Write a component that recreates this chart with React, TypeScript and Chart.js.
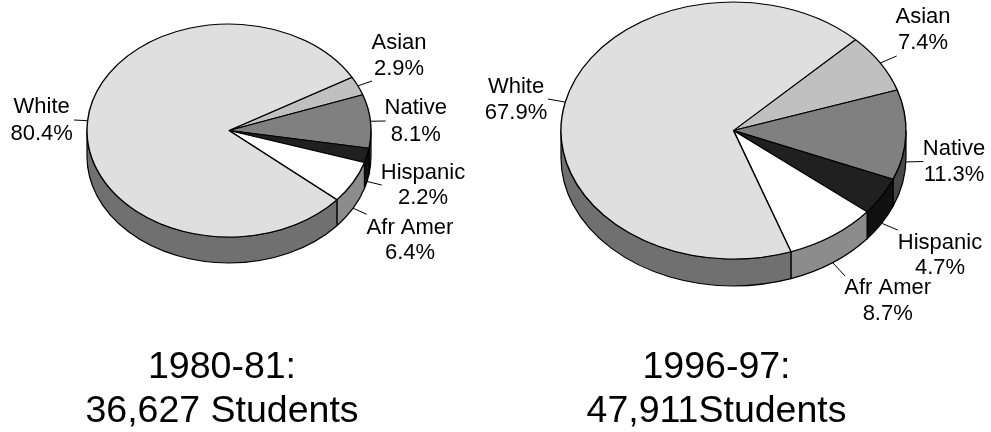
import React, { useEffect, useRef } from "react";
import { Chart, registerables } from "chart.js";

Chart.register(...registerables);

const categories = ["Asian", "Native", "Hispanic", "Afr Amer", "White"];
const values1980 = [2.9, 8.1, 2.2, 6.4, 80.4];
const values1996 = [7.4, 11.3, 4.7, 8.7, 67.9];
const title1980 = ["1980-81:", "36,627 Students"];
const title1996 = ["1996-97:", "47,911Students"];

const topColors = ["#c0c0c0", "#808080", "#202020", "#ffffff", "#dfdfdf"];
const wallColors = ["#8c8c8c", "#484848", "#101010", "#8c8c8c", "#707070"];
const FONT = '"Liberation Sans", Arial, sans-serif';
const LABEL_SIZE = 22;
const TITLE_SIZE = 37.5;

type Layout = {
  cx: number; cy: number; rx: number; ry: number; depth: number; rotation: number;
  labelPos: number[][]; // centre x, line 1 y, line 2 y
  leaderEnd: number[][];
  titlePos: number[];   // centre x, line 1 baseline, line 2 baseline
};

const layout1980: Layout = {
  cx: 229, cy: 130.5, rx: 142, ry: 106.5, depth: 26, rotation: 60,
  labelPos: [[399, 43, 69], [415.7, 108, 135], [423, 172.7, 198], [410, 228, 253], [41.7, 107, 134]],
  leaderEnd: [[372, 81], [385.6, 121], [381.7, 185], [366.7, 214.3], [74, 120]],
  titlePos: [222, 378, 422],
};
const layout1996: Layout = {
  cx: 733.5, cy: 130.5, rx: 172.5, ry: 128.5, depth: 27, rotation: 45,
  labelPos: [[923, 17, 43], [954, 149, 175], [940, 243, 268], [887.7, 288, 314], [516, 87, 113]],
  leaderEnd: [[896.7, 56], [923.3, 161.5], [897.7, 230], [845, 276], [548, 99]],
  titlePos: [716.5, 378, 422],
};

function piePlugin(l: Layout, title: string[]) {
  return {
    id: "pie3d",
    beforeDatasetsDraw(chart: any) {
      const ctx = chart.ctx;
      const arcs = chart.getDatasetMeta(0).data;
      ctx.save();
      ctx.lineWidth = 1.2;
      ctx.strokeStyle = "#000";
      ctx.lineJoin = "round";
      arcs.forEach((arc: any, i: number) => {
        for (let k = -2; k <= 2; k++) {
          const a0 = Math.max(arc.startAngle + k * 2 * Math.PI, 0);
          const a1 = Math.min(arc.endAngle + k * 2 * Math.PI, Math.PI);
          if (a1 <= a0) continue;
          ctx.beginPath();
          ctx.ellipse(l.cx, l.cy, l.rx, l.ry, 0, a0, a1, false);
          ctx.ellipse(l.cx, l.cy + l.depth, l.rx, l.ry, 0, a1, a0, true);
          ctx.closePath();
          ctx.fillStyle = wallColors[i];
          ctx.fill();
          ctx.stroke();
        }
      });
      ctx.restore();
      const a = arcs[0];
      ctx.save();
      ctx.translate(l.cx, l.cy);
      ctx.scale(l.rx / a.outerRadius, l.ry / a.outerRadius);
      ctx.translate(-a.x, -a.y);
    },
    afterDatasetsDraw(chart: any) {
      const ctx = chart.ctx;
      ctx.restore();
      const arcs = chart.getDatasetMeta(0).data;
      const values = chart.data.datasets[0].data;
      ctx.save();
      // leader lines from the rim at each slice's middle angle
      ctx.strokeStyle = "#000";
      ctx.lineWidth = 1;
      arcs.forEach((arc: any, i: number) => {
        const mid = (arc.startAngle + arc.endAngle) / 2;
        const x = l.cx + l.rx * Math.cos(mid);
        let y = l.cy + l.ry * Math.sin(mid);
        if (Math.sin(mid) > 0) y += l.depth;
        ctx.beginPath();
        ctx.moveTo(x, y);
        ctx.lineTo(l.leaderEnd[i][0], l.leaderEnd[i][1]);
        ctx.stroke();
      });
      ctx.fillStyle = "#000";
      ctx.textAlign = "center";
      ctx.textBaseline = "middle";
      ctx.font = `${LABEL_SIZE}px ${FONT}`;
      categories.forEach((name, i) => {
        const [x, y1, y2] = l.labelPos[i];
        ctx.fillText(name, x, y1);
        ctx.fillText(`${values[i].toFixed(1)}%`, x, y2);
      });
      ctx.textBaseline = "alphabetic";
      ctx.font = `${TITLE_SIZE}px ${FONT}`;
      ctx.fillText(title[0], l.titlePos[0], l.titlePos[1]);
      ctx.fillText(title[1], l.titlePos[0], l.titlePos[2]);
      ctx.restore();
    },
  };
}

function makeChart(canvas: HTMLCanvasElement, values: number[], l: Layout, title: string[]) {
  const W = 991;
  const H = 432;
  const R = l.rx;
  return new Chart(canvas, {
    type: "pie",
    data: {
      labels: categories,
      datasets: [{
        data: values,
        backgroundColor: topColors,
        borderColor: "#000000",
        borderWidth: 1.4,
        borderAlign: "center",
        clip: false,
      } as any],
    },
    options: {
      responsive: false,
      animation: false,
      rotation: l.rotation,
      layout: {
        padding: {
          left: l.cx - R,
          right: W - l.cx - R,
          top: H / 2 - R,
          bottom: H / 2 - R,
        },
      },
      plugins: { legend: { display: false }, tooltip: { enabled: false }, title: { display: false } },
    },
    plugins: [piePlugin(l, title)],
  } as any);
}

export default function App() {
  const a = useRef<HTMLCanvasElement>(null);
  const b = useRef<HTMLCanvasElement>(null);
  useEffect(() => {
    const c1 = makeChart(a.current!, values1980, layout1980, title1980);
    const c2 = makeChart(b.current!, values1996, layout1996, title1996);
    return () => {
      c1.destroy();
      c2.destroy();
    };
  }, []);
  const style: React.CSSProperties = { position: "absolute", left: 0, top: 0, display: "block" };
  return (
    <div style={{ position: "fixed", left: 0, top: 0, width: 991, height: 432, background: "#fff", overflow: "hidden" }}>
      <canvas ref={a} width={991} height={432} style={style} />
      <canvas ref={b} width={991} height={432} style={style} />
    </div>
  );
}
